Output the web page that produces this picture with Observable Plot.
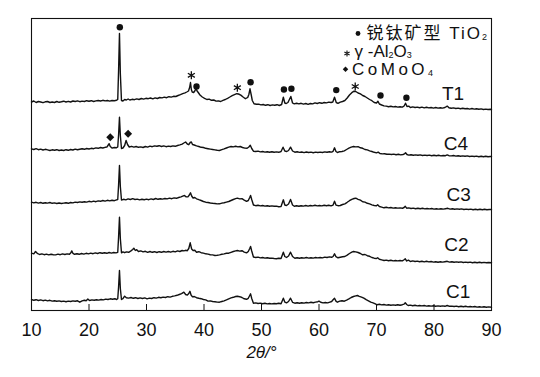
<!DOCTYPE html>
<html><head><meta charset="utf-8">
<script src="https://cdn.jsdelivr.net/npm/d3@7"></script>
<script src="https://cdn.jsdelivr.net/npm/@observablehq/plot@0.6"></script>
<style>body{margin:0;background:#fff;} svg{display:block;}</style>
</head><body><div id="chart"></div>
<script>
// ---- data ----
const series = ["T1", "C4", "C3", "C2", "C1"];
const offsets = [209, 161, 108, 57, 10];           // vertical stacking offset of each pattern
const labelX = [83.3, 83.8, 84.3, 83.9, 84.2];     // 2θ where each pattern name sits
const labelY = [216.7, 167, 115.3, 66, 19];        // intensity level of each pattern name
const xTicks = [10, 20, 30, 40, 50, 60, 70, 80, 90];
const xLabel = "2θ/°";

// [2θ, relative intensity]
const T1 = [[10,-0.5],[10.4,0.5],[10.8,-1],[11.2,0],[11.6,-0.5],[12,-1.2],[12.4,-0.3],[12.8,0],[13.2,-1],[13.6,-0.5],[14,-1],[14.4,0],[14.8,-0.8],[15.2,-0.3],[15.6,0.3],[16,-0.5],[16.4,0.2],[16.8,-0.5],[17.2,0.5],[17.6,0],[18,0.6],[18.4,-0.2],[18.8,0.4],[19.2,0],[19.6,0.8],[20,0.3],[20.4,0.8],[20.8,0],[21.2,0.6],[21.6,1],[22,0.5],[22.4,1.2],[22.8,0.6],[23.2,1],[23.6,0.4],[24,1],[24.4,0.8],[24.8,1.2],[25.0,2],[25.15,32],[25.3,68],[25.45,28],[25.65,1],[25.9,0.5],[26.2,2],[26.5,1.5],[26.8,2.5],[27.1,1.5],[27.5,2.2],[27.9,1.8],[28.3,2.6],[28.7,2],[29.1,3],[29.5,2.4],[29.9,3.2],[30.3,2.8],[30.7,3.5],[31.1,2.6],[31.5,3.6],[31.9,3],[32.3,4],[32.7,3.6],[33.1,4.4],[33.5,3.8],[33.9,4.8],[34.3,4.4],[34.7,5.2],[35.1,5],[35.5,6],[35.9,6.8],[36.3,7.8],[36.7,8.6],[37.0,9.5],[37.3,10.5],[37.5,14],[37.65,19],[37.8,12],[37.95,9.5],[38.2,9],[38.4,10.5],[38.6,13],[38.8,10.5],[39.0,9],[39.3,6.5],[39.7,4.5],[40.1,3.2],[40.5,2],[40.9,2.4],[41.3,1.2],[41.7,1.5],[42.1,0.4],[42.5,0.6],[42.9,0],[43.3,1.2],[43.7,2],[44.1,3.2],[44.5,4.5],[44.9,5.8],[45.3,6.8],[45.7,7.8],[46.0,7.5],[46.4,6.4],[46.8,4.5],[47.2,2.8],[47.6,4],[47.8,7],[48.0,12.7],[48.2,7],[48.4,1],[48.7,-2.3],[49.1,-2.8],[49.5,-2.6],[49.9,-3.4],[50.3,-3],[50.7,-3.8],[51.1,-3.2],[51.5,-4],[51.9,-3.4],[52.3,-3.8],[52.7,-3.2],[53.1,-4],[53.5,-3],[53.8,4.3],[54.05,-1.5],[54.3,-2],[54.6,-1],[55.1,5],[55.4,-1.5],[55.7,-2.4],[56.1,-1.8],[56.5,-2.4],[56.9,-1.8],[57.3,-2.6],[57.7,-2],[58.1,-2.8],[58.5,-2],[58.9,-2.4],[59.3,-1.4],[59.7,-2],[60.1,-1.2],[60.5,-1.8],[60.9,-1],[61.3,-1.4],[61.7,-0.6],[62.1,-1],[62.4,-0.5],[62.7,4.3],[63.0,-1],[63.3,-1.8],[63.7,-0.6],[64.1,0],[64.5,1],[64.9,3.5],[65.3,6.5],[65.7,8.8],[66.1,10.3],[66.4,10],[66.8,8.5],[67.2,7.6],[67.6,6],[68.0,5],[68.4,3.5],[68.8,2],[69.2,0.8],[69.6,-1],[70.0,-1.5],[70.25,0.2],[70.5,-2.5],[70.9,-3.5],[71.3,-4.4],[71.7,-4.6],[72.1,-5.2],[72.5,-4.8],[72.9,-5.4],[73.3,-5],[73.7,-5.6],[74.1,-5.2],[74.5,-5.6],[74.8,-4.5],[75.05,-1.7],[75.3,-5],[75.6,-4.6],[75.9,-6],[76.3,-5.4],[76.7,-6],[77.1,-5.6],[77.5,-6.2],[77.9,-5.6],[78.3,-6.4],[78.7,-5.8],[79.1,-6.4],[79.5,-6],[79.9,-6.6],[80.3,-6],[80.7,-6.6],[81.1,-6.2],[81.5,-6.6],[81.9,-6],[82.3,-4.6],[82.6,-6.2],[83,-6.8],[83.4,-6.4],[83.8,-7],[84.2,-6.6],[84.6,-7.2],[85,-6.8],[85.4,-7.2],[85.8,-7],[86.2,-7.6],[86.6,-7],[87,-7.6],[87.4,-7.2],[87.8,-7.8],[88.2,-7.4],[88.6,-8],[89,-7.6],[89.4,-8],[89.8,-7.8],[90,-8]];

const C4 = [[10,0.7],[10.4,0],[10.8,0.8],[11.2,-0.2],[11.6,0.4],[12,-0.5],[12.4,0.2],[12.8,-0.4],[13.2,-1],[13.6,-0.3],[14,-0.8],[14.4,-0.2],[14.8,-1],[15.2,-0.5],[15.6,-1],[16,-0.2],[16.4,-0.8],[16.8,0],[17.2,-0.5],[17.6,0.4],[18,-0.2],[18.4,0.3],[18.8,0.8],[19.2,0.2],[19.6,1],[20,0.5],[20.4,1.2],[20.8,0.8],[21.2,1.6],[21.6,1.2],[22,2],[22.4,1.5],[22.8,2.2],[23.1,2.4],[23.35,4.5],[23.5,5.8],[23.7,3],[24.0,1.4],[24.4,2],[24.8,1.8],[25.0,2.5],[25.15,15],[25.3,32.3],[25.45,14],[25.65,1],[25.9,1.5],[26.2,4],[26.45,9],[26.7,5],[27.0,2.5],[27.4,3.2],[27.8,2.4],[28.2,3],[28.6,2.2],[29.0,2.6],[29.4,2],[29.8,3],[30.2,2.4],[30.6,3.4],[31.0,2.8],[31.4,3.6],[31.8,3.2],[32.2,3.8],[32.6,3],[33.0,3.6],[33.4,2.8],[33.8,3.4],[34.2,3],[34.6,3.6],[35.0,3.2],[35.4,4],[35.8,4.6],[36.2,5.4],[36.5,6.5],[36.8,7.5],[37.1,5.5],[37.35,4.8],[37.6,7],[37.8,7.5],[38.0,5],[38.3,4.5],[38.7,3.6],[39.1,3],[39.5,2.2],[39.9,2],[40.3,1.2],[40.7,0.8],[41.1,0.4],[41.5,0],[41.9,-0.4],[42.3,-0.8],[42.7,-1],[43.1,-0.2],[43.5,0.6],[43.9,1.5],[44.3,2.4],[44.7,3],[45.1,2.6],[45.5,3.2],[45.9,2.6],[46.3,3],[46.7,2],[47.1,1.4],[47.5,1.2],[47.8,2.5],[48.05,4.2],[48.3,1],[48.6,-1.7],[49,-2],[49.4,-1.6],[49.8,-2.4],[50.2,-2],[50.6,-2.6],[51,-2.2],[51.4,-2.8],[51.8,-2.2],[52.2,-2.8],[52.6,-2.4],[53.0,-2.8],[53.4,-2],[53.75,2.3],[54.05,-1.5],[54.4,-2],[54.7,-1],[55.05,2.3],[55.4,-1.5],[55.8,-2.7],[56.2,-2.3],[56.6,-2.9],[57,-2.5],[57.4,-3.1],[57.8,-2.5],[58.2,-3],[58.6,-2.6],[59,-3.2],[59.4,-2.6],[59.8,-3],[60.2,-2.6],[60.6,-3],[61,-2.4],[61.4,-2.8],[61.8,-2.2],[62.2,-2.6],[62.45,-1.8],[62.7,1.7],[62.95,-2],[63.2,-3],[63.6,-2.2],[64,-2],[64.4,-1.4],[64.8,0],[65.2,1.4],[65.6,2.4],[66.0,3],[66.4,2.6],[66.8,2.8],[67.2,1.7],[67.6,1.2],[68,0],[68.4,-0.4],[68.8,-1.4],[69.2,-2],[69.6,-2.8],[70.0,-3.4],[70.3,-2.6],[70.6,-4],[71,-4.4],[71.4,-4.2],[71.8,-4.8],[72.2,-4.6],[72.6,-5],[73,-4.6],[73.4,-5.2],[73.8,-4.8],[74.2,-5.4],[74.6,-5],[74.85,-4.4],[75.05,-3.2],[75.3,-5],[75.6,-5.6],[76,-5.2],[76.4,-5.8],[76.8,-5.4],[77.2,-5.8],[77.6,-5.4],[78,-6],[78.4,-5.6],[78.8,-6],[79.2,-5.6],[79.6,-6.2],[80,-5.8],[80.4,-6.2],[80.8,-5.8],[81.2,-6.4],[81.6,-6],[82,-6.2],[82.3,-5.4],[82.6,-6.2],[83,-6.4],[83.4,-6],[83.8,-6.6],[84.2,-6.2],[84.6,-6.8],[85,-6.4],[85.4,-6.8],[85.8,-6.4],[86.2,-7],[86.6,-6.6],[87,-7],[87.4,-6.6],[87.8,-7.2],[88.2,-6.8],[88.6,-7.2],[89,-6.8],[89.4,-7.2],[89.8,-7],[90,-7]];

const C3 = [[10,0.3],[10.4,-0.4],[10.8,0.2],[11.2,-0.6],[11.6,0],[12,-0.8],[12.4,-0.2],[12.8,-0.6],[13.2,0],[13.6,-0.8],[14,-0.4],[14.4,-1],[14.8,-0.5],[15.2,-1],[15.6,-0.6],[16,-0.2],[16.4,-0.8],[16.8,0],[17.2,-0.4],[17.6,0.4],[18,0],[18.4,0.6],[18.8,0.2],[19.2,0.8],[19.6,0.4],[20,1.2],[20.4,0.6],[20.8,1.4],[21.2,0.8],[21.6,1.6],[22,1.2],[22.4,2],[22.8,1.4],[23.2,2.2],[23.6,1.6],[24,2.2],[24.4,1.8],[24.8,2.6],[25.0,3],[25.15,18],[25.3,37],[25.45,16],[25.65,2.5],[26,3.2],[26.4,2.6],[26.8,3.6],[27.2,3],[27.6,3.8],[28,3],[28.4,3.4],[28.8,2.6],[29.2,3.2],[29.6,2.8],[30,3.4],[30.4,2.8],[30.8,3.6],[31.2,3],[31.6,4],[32,3.2],[32.4,3.8],[32.8,3.4],[33.2,4],[33.6,3.6],[34,4.4],[34.4,3.8],[34.8,4.6],[35.2,4.2],[35.6,5],[36,5.6],[36.3,6.4],[36.6,7],[36.9,5.6],[37.2,5.6],[37.45,7.5],[37.65,9.7],[37.85,6.5],[38.1,4.5],[38.4,5],[38.7,3.7],[39.1,2.8],[39.5,2],[39.9,1],[40.3,0.3],[40.7,0],[41.1,-0.5],[41.5,-0.8],[41.9,-1],[42.3,-1.4],[42.7,-1.3],[43.1,-0.6],[43.5,-0.2],[43.9,0.4],[44.3,1],[44.7,2],[45.1,3],[45.5,3.8],[45.8,4.3],[46.2,3.6],[46.6,3.9],[47,2.4],[47.4,1.2],[47.7,2],[47.95,5],[48.1,7],[48.3,3],[48.6,-2.5],[49,-3.2],[49.4,-2.8],[49.8,-3.4],[50.2,-3],[50.6,-3.6],[51,-3.2],[51.4,-3.8],[51.8,-3.4],[52.2,-3.8],[52.6,-3.6],[53,-4.2],[53.4,-4],[53.8,2.7],[54.05,-2.5],[54.35,-3],[54.7,-1.5],[55.05,3],[55.4,-2.5],[55.7,-3.7],[56.1,-3.2],[56.5,-3.8],[56.9,-3.2],[57.3,-3.6],[57.7,-3],[58.1,-3.6],[58.5,-3],[58.9,-3.4],[59.3,-2.8],[59.7,-3.4],[60.1,-3],[60.5,-3.4],[60.9,-2.8],[61.3,-3.2],[61.7,-2.8],[62.1,-3.4],[62.45,-2.6],[62.7,1.3],[62.95,-2.6],[63.3,-3.2],[63.7,-3],[64.1,-2],[64.5,-1.3],[64.9,0.2],[65.3,1.8],[65.7,3.2],[66.1,4],[66.4,4.3],[66.8,3.2],[67.2,2.4],[67.6,0.8],[68,0.4],[68.4,-0.8],[68.8,-1.4],[69.2,-2.4],[69.6,-3],[70.0,-3.2],[70.2,-2.2],[70.5,-4],[70.9,-4.6],[71.3,-5.3],[71.7,-4.8],[72.1,-5.4],[72.5,-5],[72.9,-5.6],[73.3,-5.2],[73.7,-5.6],[74.1,-5.4],[74.5,-5.8],[74.8,-5],[75.0,-3.8],[75.25,-5.7],[75.6,-5.4],[76,-6],[76.4,-5.6],[76.8,-6.2],[77.2,-5.8],[77.6,-6.2],[78,-5.8],[78.4,-6.4],[78.8,-6],[79.2,-6.4],[79.6,-6],[80,-6.6],[80.4,-6.2],[80.8,-6.6],[81.2,-6.2],[81.6,-6.6],[82,-6.2],[82.4,-5.8],[82.8,-6.6],[83.2,-6.2],[83.6,-6.8],[84,-6.4],[84.4,-6.8],[84.8,-6.4],[85.2,-7],[85.6,-6.6],[86,-7],[86.4,-6.6],[86.8,-7.2],[87.2,-6.8],[87.6,-7.2],[88,-6.8],[88.4,-7.2],[88.8,-6.8],[89.2,-7.2],[89.6,-7],[90,-7]];

const C2 = [[10,0.3],[10.4,-0.4],[10.7,2],[11.0,0.2],[11.4,-1],[11.8,-0.4],[12.2,-1.2],[12.6,-0.6],[13,-1.4],[13.4,-0.8],[13.8,-1.2],[14.2,-1.4],[14.6,-0.6],[15,-1.2],[15.4,-0.4],[15.8,-1],[16.2,-0.4],[16.6,-0.8],[16.85,0.8],[17.0,2.6],[17.2,0.2],[17.5,-0.8],[17.9,-0.2],[18.3,-0.8],[18.7,0],[19.1,-0.6],[19.5,0.2],[19.9,-0.4],[20.3,0.4],[20.7,-0.2],[21.1,0.6],[21.5,0],[21.9,0.8],[22.3,0.2],[22.7,0.8],[23.1,0.2],[23.5,1],[23.9,0.4],[24.3,1],[24.7,0.6],[25.0,1.2],[25.15,17],[25.3,36.3],[25.45,15],[25.65,0.7],[25.9,1.6],[26.2,0.8],[26.5,1.6],[26.9,1.2],[27.3,2.6],[27.6,4],[27.8,5.3],[28.05,3],[28.3,3.8],[28.6,2],[29,2.6],[29.4,1.6],[29.8,2.2],[30.2,1.2],[30.6,2],[31,1.2],[31.4,1.8],[31.8,1],[32.2,1.8],[32.6,1.2],[33,2],[33.4,1.4],[33.8,2],[34.2,1.3],[34.6,2.2],[35,1.6],[35.4,2.6],[35.8,2],[36.2,3],[36.5,2.6],[36.8,3.2],[37.1,2.8],[37.35,5],[37.6,10.7],[37.85,4.5],[38.1,3],[38.4,3.2],[38.7,1.3],[39.1,1.8],[39.5,0.8],[39.9,0.4],[40.3,-0.3],[40.7,-0.6],[41.1,-1.2],[41.5,-1.4],[41.9,-2],[42.3,-1.8],[42.7,-1.4],[43.1,-0.8],[43.5,-0.4],[43.9,0.2],[44.3,0.3],[44.7,1.2],[45.1,2],[45.5,2.6],[45.8,3],[46.2,2.4],[46.6,2.8],[47,1.4],[47.4,0.6],[47.7,2],[47.95,5],[48.1,7],[48.3,2.5],[48.6,-3.5],[49,-4],[49.4,-3.6],[49.8,-4.4],[50.2,-4],[50.6,-4.6],[51,-4.2],[51.4,-4.8],[51.8,-4.6],[52.2,-5],[52.6,-5.3],[53,-4.8],[53.4,-5],[53.8,1.3],[54.05,-3],[54.35,-4],[54.7,-2.5],[55.05,1.3],[55.4,-3],[55.8,-4.7],[56.2,-4.2],[56.6,-4.8],[57,-4.2],[57.4,-4.6],[57.8,-4],[58.2,-4.6],[58.6,-4.2],[59,-4.6],[59.4,-4],[59.8,-4.4],[60.2,-4],[60.6,-4.4],[61,-3.6],[61.4,-4],[61.8,-3.4],[62.2,-3.8],[62.45,-3],[62.7,-0.3],[62.95,-3.2],[63.3,-4.3],[63.7,-3.7],[64.1,-3.2],[64.5,-3],[64.9,-1.6],[65.3,0],[65.7,1.4],[66.0,2],[66.4,1.6],[66.8,1],[67.2,0],[67.6,-1.3],[68,-1],[68.4,-2.2],[68.8,-2.8],[69.2,-4],[69.6,-4.7],[70.0,-5],[70.2,-4.2],[70.5,-5.8],[70.9,-6.4],[71.3,-7],[71.7,-6.6],[72.1,-7.2],[72.5,-6.8],[72.9,-7.4],[73.3,-7],[73.7,-7.4],[74.1,-7],[74.5,-7.4],[74.8,-6.2],[75.0,-5.3],[75.25,-7.5],[75.55,-6.6],[75.9,-8],[76.3,-7.4],[76.7,-8],[77.1,-7.6],[77.5,-8.2],[77.9,-7.8],[78.3,-8.4],[78.7,-7.8],[79.1,-8.4],[79.5,-8],[79.9,-8.6],[80.3,-8.2],[80.7,-8.7],[81.1,-8.2],[81.5,-8.6],[81.9,-8.2],[82.3,-7.8],[82.7,-8.6],[83.1,-8.2],[83.5,-8.8],[83.9,-8.4],[84.3,-8.8],[84.7,-8.4],[85.1,-9],[85.5,-8.6],[85.9,-9],[86.3,-8.6],[86.7,-9.2],[87.1,-8.8],[87.5,-9.2],[87.9,-8.8],[88.3,-9.3],[88.7,-8.9],[89.1,-9.3],[89.5,-9],[90,-9.3]];

const C1 = [[10,1],[10.4,0.2],[10.8,0.8],[11.2,0],[11.6,0.6],[12,-0.2],[12.4,0.4],[12.8,-0.4],[13.2,0.2],[13.6,-0.6],[14,-0.2],[14.4,-0.8],[14.8,-0.4],[15.2,-1],[15.6,-0.6],[16,-1.2],[16.4,-0.6],[16.8,-1],[17.2,-0.4],[17.6,-0.8],[18,-0.3],[18.4,-1.7],[18.8,-0.4],[19.2,0.2],[19.5,-0.2],[19.8,1.4],[20.1,0],[20.5,0.6],[20.9,0.2],[21.3,0.8],[21.7,0.4],[22.1,1],[22.5,0.6],[22.9,1.4],[23.3,1],[23.7,1.7],[24.1,1.2],[24.5,1.8],[24.8,1],[25.0,1.8],[25.15,14],[25.3,30],[25.45,12],[25.65,1],[25.9,1.8],[26.2,4.3],[26.5,2.8],[26.9,2.4],[27.3,3],[27.7,2.2],[28.1,2.8],[28.5,2],[28.9,2.6],[29.3,2],[29.7,2.6],[30.1,1.7],[30.5,2.4],[30.9,2],[31.3,2.8],[31.7,2.4],[32.1,3.2],[32.5,2.8],[32.9,3.4],[33.3,3],[33.7,3.8],[34.1,3.4],[34.5,4.2],[34.9,4.6],[35.3,5.2],[35.7,6],[36.1,6.8],[36.5,8.3],[36.8,6],[37.1,5.4],[37.35,7],[37.55,9.2],[37.75,5.5],[38.0,3.6],[38.3,4],[38.7,2.8],[39.1,2.2],[39.5,1.8],[39.9,1],[40.3,0.6],[40.7,-0.6],[41.1,-0.4],[41.5,-1],[41.9,-1.2],[42.3,-1.6],[42.7,-1.7],[43.1,-1],[43.5,-0.4],[43.9,0.6],[44.3,1.7],[44.7,2.6],[45.1,3.2],[45.5,4],[45.8,4.3],[46.2,3.8],[46.6,3],[47,1.7],[47.4,1.2],[47.7,2.2],[47.95,5],[48.1,6.7],[48.3,2],[48.6,-2.7],[49,-2.4],[49.4,-3],[49.8,-2.6],[50.2,-3.2],[50.6,-2.8],[51,-3.4],[51.4,-3],[51.8,-3.4],[52.2,-3],[52.6,-3.3],[53,-2.8],[53.4,-3.2],[53.8,2.3],[54.05,-1.6],[54.35,-2.3],[54.7,-1],[55.05,2.3],[55.4,-1.8],[55.8,-2.7],[56.2,-2.2],[56.6,-2.8],[57,-2.2],[57.4,-2.6],[57.8,-2],[58.2,-2.4],[58.6,-1.8],[59,-2.2],[59.4,-1.6],[59.8,-1.2],[60.0,-0.6],[60.3,-1.8],[60.7,-2.4],[61.1,-2],[61.5,-2.4],[61.9,-1.6],[62.2,-1],[62.45,0.8],[62.7,2.3],[62.95,-0.6],[63.2,-1.7],[63.6,-0.6],[64,-0.2],[64.4,-0.7],[64.8,0.4],[65.2,1.6],[65.6,3],[66.0,4],[66.4,4.6],[66.7,5],[67.0,4.2],[67.4,3.4],[67.8,2.3],[68.2,0.8],[68.6,-0.4],[69,-1.7],[69.4,-2.4],[69.8,-3.4],[70.1,-4.3],[70.5,-3.8],[70.9,-4.4],[71.3,-4],[71.7,-4.6],[72.1,-4.2],[72.5,-4.8],[72.9,-4.4],[73.3,-4.8],[73.7,-4.2],[74.1,-4.8],[74.5,-4.2],[74.8,-3.6],[75.0,-2.3],[75.25,-4],[75.5,-5],[75.9,-4.6],[76.3,-5.2],[76.7,-4.8],[77.1,-5.4],[77.5,-5],[77.9,-5.4],[78.3,-5],[78.7,-5.6],[79.1,-5.2],[79.5,-5.6],[79.9,-5.2],[80.3,-5.7],[80.7,-5.4],[81.1,-5.8],[81.5,-5.4],[81.9,-5.8],[82.3,-5],[82.7,-5.8],[83.1,-5.6],[83.5,-6],[83.9,-5.6],[84.3,-6.2],[84.7,-5.8],[85.1,-6.2],[85.5,-5.8],[85.9,-6.4],[86.3,-6],[86.7,-6.4],[87.1,-6],[87.5,-6.6],[87.9,-6.2],[88.3,-6.6],[88.7,-6.2],[89.1,-6.7],[89.5,-6.4],[90,-6.7]];

// phase markers: [2θ, marker level]
const anataseMarks = [[25.36,283.3],[38.7,224],[48.1,228.3],[53.9,221],[55.2,221.7],[63.0,220.4],[70.7,215],[75.2,212.7]];
const aluminaMarks = [[37.8,235.2],[45.8,222.8],[66.3,224]];
const comoo4Marks = [[23.7,173.3],[26.8,176.7]];

const legendLabels = ["锐钛矿型 TiO_2", "γ -Al_2O_3", "CoMoO_4"];
const legendSymbols = ["circle", "asterisk", "diamond2"];

// ---- build ----
const traces = [T1, C4, C3, C2, C1];
const rows = traces.flatMap((t, i) => t.map(([x, v]) => ({series: series[i], x, y: offsets[i] + v})));
const labels = series.map((s, i) => ({s, x: labelX[i], y: labelY[i]}));

const ink = "#111";
const font = "'Liberation Sans', Arial, 'Noto Sans CJK SC', sans-serif";

// legend rows placed relative to the top-right corner of the frame
const legendLayout = [
  {sx: -133.5, sy: 15, tx: -125, ty: 15, r: 2.4},
  {sx: -144.5, sy: 35, tx: -137, ty: 33, r: 2.8},
  {sx: -146, sy: 50.7, tx: -139.5, ty: 50.8, r: 2.5}
];
const legendMarks = legendLabels.flatMap((lab, i) => {
  const L = legendLayout[i];
  const sym = legendSymbols[i];
  const stroked = sym === "asterisk";
  return [
    Plot.dot([sym], {frameAnchor: "top-right", dx: L.sx, dy: L.sy, symbol: d => d, r: L.r,
      fill: stroked ? "none" : ink, stroke: stroked ? ink : "none", strokeWidth: 1.1}),
    Plot.text([lab], {frameAnchor: "top-right", dx: L.tx, dy: L.ty, text: d => d,
      textAnchor: "start", lineAnchor: "middle", fontSize: 17, fill: ink})
  ];
});

const chart = Plot.plot({
  width: 540,
  height: 377,
  marginTop: 18,
  marginRight: 49,
  marginBottom: 67,
  marginLeft: 31,
  style: {fontFamily: font, fontSize: "18px", color: ink, background: "#fff"},
  x: {domain: [10, 90], label: null},
  y: {domain: [0, 292], axis: null},
  marks: [
    Plot.line(rows, {x: "x", y: "y", z: "series", stroke: ink, strokeWidth: 1.4, strokeLinejoin: "round"}),
    Plot.dot(anataseMarks, {x: d => d[0], y: d => d[1], r: 3.2, fill: ink, symbol: "circle"}),
    Plot.dot(aluminaMarks, {x: d => d[0], y: d => d[1], r: 3.8, stroke: ink, strokeWidth: 1.3, fill: "none", symbol: "asterisk"}),
    Plot.dot(comoo4Marks, {x: d => d[0], y: d => d[1], r: 3.6, fill: ink, symbol: "diamond2"}),
    Plot.text(labels, {x: "x", y: "y", text: "s", fontSize: 19, fill: ink, textAnchor: "middle", lineAnchor: "middle"}),
    ...legendMarks,
    Plot.frame({stroke: ink, strokeWidth: 1.1}),
    Plot.axisX({ticks: xTicks, tickSize: -6, tickPadding: 19, label: null, fontSize: 18, stroke: ink, fill: ink}),
    Plot.text([xLabel], {frameAnchor: "bottom", dy: 42, text: d => d, fontSize: 17, fontStyle: "italic", fill: ink, lineAnchor: "middle"})
  ]
});

// turn "_n" markup into subscript tspans
const NS = "http://www.w3.org/2000/svg";
chart.querySelectorAll("text").forEach(t => {
  const s = t.textContent;
  if (!s.includes("_")) return;
  t.textContent = "";
  const parts = s.split(/(_\d)/).filter(p => p.length);
  let down = false;
  for (const p of parts) {
    const ts = document.createElementNS(NS, "tspan");
    if (p[0] === "_") {
      ts.textContent = p.slice(1);
      ts.setAttribute("font-size", "9");
      ts.setAttribute("dy", "1.5");
      ts.setAttribute("letter-spacing", "0");
      down = true;
    } else {
      ts.textContent = p;
      if (down) { ts.setAttribute("dy", "-1.5"); down = false; }
    }
    t.appendChild(ts);
  }
  if (s.startsWith("锐")) t.setAttribute("letter-spacing", "2");
  if (s.startsWith("Co")) t.setAttribute("letter-spacing", "3.5");
});

document.getElementById("chart").appendChild(chart);
</script>
</body></html>
